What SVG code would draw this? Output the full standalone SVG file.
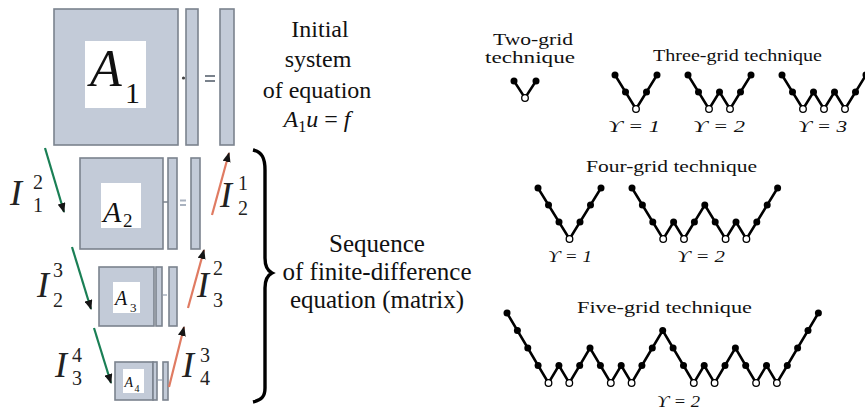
<svg xmlns="http://www.w3.org/2000/svg" width="865" height="410" viewBox="0 0 865 410">
<style>
.m{fill:#c3cbd8;stroke:#7b838e;stroke-width:1.6}
.w{fill:#fff}
.tx{font-family:"Liberation Serif","DejaVu Serif",serif;fill:#111}
.ital{font-style:italic}
.big{font-size:25px}
.bigI{font-family:"Liberation Serif",serif;font-style:italic;font-size:36px;fill:#222}
.ix{font-family:"Liberation Serif",serif;font-size:20px;fill:#222}
.ttl{font-family:"Liberation Serif",serif;font-size:17px;fill:#111}
.gm{font-family:"Liberation Serif","DejaVu Serif",serif;font-style:italic;font-size:16px;fill:#111}
.ln{fill:none;stroke:#000;stroke-width:2.5;stroke-linejoin:miter}
.d{fill:#000}
.o{fill:#fff;stroke:#000;stroke-width:1.3}
.ga{stroke:#1a7f55;stroke-width:2.2;fill:none}
.ra{stroke:#e07b62;stroke-width:2.2;fill:none}
</style>
<defs>
<marker id="ah" viewBox="0 0 10 8" refX="9" refY="4" markerWidth="10" markerHeight="8" markerUnits="userSpaceOnUse" orient="auto">
<path d="M0,0 L10,4 L0,8 z" fill="#151515"/>
</marker>
</defs>

<g id="matrix-A1">
<rect class="m" x="54" y="9" width="124" height="136"/>
<rect class="w" x="85" y="41" width="61" height="67"/>
<text class="tx ital" x="90" y="86" font-size="52">A</text>
<text class="tx" x="125" y="103" font-size="30">1</text>
<rect class="m" x="186" y="9" width="12" height="136"/>
<circle cx="183.5" cy="78" r="1.6" fill="#444"/>
<path d="M205,76 H215 M205,81 H215" stroke="#7a828c" stroke-width="2"/>
<rect class="m" x="220" y="9" width="14" height="136"/>
</g>

<g id="matrix-A2">
<rect class="m" x="80" y="158" width="83" height="91"/>
<rect class="w" x="101" y="183" width="40" height="45"/>
<text class="tx ital" x="103" y="222" font-size="30">A</text>
<text class="tx" x="123" y="227" font-size="19">2</text>
<path d="M163,202 H168" stroke="#7b838e" stroke-width="1.5"/>
<rect class="m" x="168" y="158" width="9" height="91"/>
<path d="M180,200.5 H186 M180,205 H186" stroke="#a9b2bf" stroke-width="2"/>
<rect class="m" x="191" y="158" width="9" height="91"/>
</g>

<g id="matrix-A3">
<rect class="m" x="99" y="267" width="55" height="59"/>
<rect class="w" x="113" y="282" width="27" height="31"/>
<text class="tx ital" x="115" y="305" font-size="20">A</text>
<text class="tx" x="130" y="312" font-size="13">3</text>
<rect class="m" x="156" y="267" width="6" height="59"/>
<path d="M163,295 H167" stroke="#a9b2bf" stroke-width="1.5"/>
<rect class="m" x="169" y="267" width="8" height="59"/>
</g>

<g id="matrix-A4">
<rect class="m" x="115" y="362" width="38" height="38"/>
<rect class="w" x="123" y="369" width="21" height="24"/>
<text class="tx ital" x="124.5" y="387" font-size="14">A</text>
<text class="tx" x="134.5" y="392" font-size="10">4</text>
<rect class="m" x="153" y="362" width="4" height="38"/>
<path d="M158,380 H162" stroke="#a9b2bf" stroke-width="1.5"/>
<rect class="m" x="163" y="362" width="5" height="38"/>
</g>

<g id="connectors">
<line class="ga" x1="45" y1="148" x2="64" y2="212" marker-end="url(#ah)"/>
<line class="ga" x1="72" y1="247" x2="91" y2="309" marker-end="url(#ah)"/>
<line class="ga" x1="94" y1="328" x2="111" y2="383" marker-end="url(#ah)"/>
<line class="ra" x1="212" y1="215" x2="229" y2="153" marker-end="url(#ah)"/>
<line class="ra" x1="188" y1="308" x2="204" y2="250" marker-end="url(#ah)"/>
<line class="ra" x1="169" y1="387" x2="184" y2="327" marker-end="url(#ah)"/>
</g>

<g id="labels-I">
<text class="bigI" x="10" y="205">I</text><text class="ix" x="33" y="189">2</text><text class="ix" x="33" y="212">1</text>
<text class="bigI" x="220" y="207">I</text><text class="ix" x="238" y="190">1</text><text class="ix" x="238" y="215">2</text>
<text class="bigI" x="37" y="297">I</text><text class="ix" x="53" y="277">3</text><text class="ix" x="53" y="307">2</text>
<text class="bigI" x="197" y="297">I</text><text class="ix" x="213" y="275">2</text><text class="ix" x="213" y="307">3</text>
<text class="bigI" x="55" y="377">I</text><text class="ix" x="72" y="362">4</text><text class="ix" x="72" y="385">3</text>
<text class="bigI" x="182" y="377">I</text><text class="ix" x="200" y="362">3</text><text class="ix" x="200" y="385">4</text>
</g>

<g id="brace">
<path d="M253,150 C262,152 265,158 265,170 L265,258 C265,266 268,271 272,273 C268,275 265,280 265,288 L265,388 C265,396 262,400 253,402" fill="none" stroke="#000" stroke-width="3.4"/>
</g>

<g id="text-initial" class="tx" font-size="24" text-anchor="middle">
<text x="320" y="37">Initial</text>
<text x="318" y="67">system</text>
<text x="317" y="98">of equation</text>
<text x="317" y="127"><tspan class="ital">A</tspan><tspan font-size="16" dy="5">1</tspan><tspan class="ital" dy="-5">u</tspan> = <tspan class="ital">f</tspan></text>
</g>

<g id="text-sequence" class="tx big" text-anchor="middle">
<text x="377" y="252">Sequence</text>
<text x="377" y="280">of finite-difference</text>
<text x="377" y="308">equation (matrix)</text>
</g>

<g id="two-grid">
<text class="ttl" x="493" y="45" textLength="80" lengthAdjust="spacingAndGlyphs">Two-grid</text>
<text class="ttl" x="485" y="63" textLength="90" lengthAdjust="spacingAndGlyphs">technique</text>
<polyline class="ln" points="514,81 525,98 536,81"/>
<circle class="d" cx="514" cy="81" r="3.5"/><circle class="d" cx="536" cy="81" r="3.5"/>
<circle class="o" cx="525" cy="98" r="3.3"/>
</g>

<g id="three-grid">
<text class="ttl" x="653" y="61" textLength="169" lengthAdjust="spacingAndGlyphs">Three-grid technique</text>
<polyline class="ln" points="615,75 625.5,92 636,109 646.5,92 657,75"/>
<polyline class="ln" points="688,75 698.5,92 709,109 719.5,92 730,109 740.5,92 751,75"/>
<polyline class="ln" points="782,75 792.5,92 803,109 813.5,92 824,109 834.5,92 845,109 855.5,92 866,75"/>
<g class="d">
<circle cx="615" cy="75" r="3.5"/><circle cx="625.5" cy="92" r="3.5"/><circle cx="646.5" cy="92" r="3.5"/><circle cx="657" cy="75" r="3.5"/>
<circle cx="688" cy="75" r="3.5"/><circle cx="698.5" cy="92" r="3.5"/><circle cx="719.5" cy="92" r="3.5"/><circle cx="740.5" cy="92" r="3.5"/><circle cx="751" cy="75" r="3.5"/>
<circle cx="782" cy="75" r="3.5"/><circle cx="792.5" cy="92" r="3.5"/><circle cx="813.5" cy="92" r="3.5"/><circle cx="834.5" cy="92" r="3.5"/><circle cx="855.5" cy="92" r="3.5"/><circle cx="866" cy="75" r="3.5"/>
</g>
<g class="o">
<circle cx="636" cy="109" r="3.3"/><circle cx="709" cy="109" r="3.3"/><circle cx="730" cy="109" r="3.3"/>
<circle cx="803" cy="109" r="3.3"/><circle cx="824" cy="109" r="3.3"/><circle cx="845" cy="109" r="3.3"/>
</g>
<text class="gm" x="608" y="132" textLength="52" lengthAdjust="spacingAndGlyphs">ϒ = 1</text>
<text class="gm" x="693" y="132" textLength="52" lengthAdjust="spacingAndGlyphs">ϒ = 2</text>
<text class="gm" x="798" y="132" textLength="49" lengthAdjust="spacingAndGlyphs">ϒ = 3</text>
</g>

<g id="four-grid">
<text class="ttl" x="586" y="172" textLength="171" lengthAdjust="spacingAndGlyphs">Four-grid technique</text>
<polyline class="ln" points="538,188 548.5,205 559,222 569.5,239 580,222 590.5,205 601,188"/>
<polyline class="ln" points="632,188 642.4,205 652.8,222 663.2,239 673.6,222 684,239 694.4,222 704.8,205 715.2,222 725.6,239 736,222 746.4,239 756.8,222 767.2,205 777.6,188"/>
<g class="d">
<circle cx="538" cy="188" r="3.5"/><circle cx="548.5" cy="205" r="3.5"/><circle cx="559" cy="222" r="3.5"/><circle cx="580" cy="222" r="3.5"/><circle cx="590.5" cy="205" r="3.5"/><circle cx="601" cy="188" r="3.5"/>
<circle cx="632" cy="188" r="3.5"/><circle cx="642.4" cy="205" r="3.5"/><circle cx="652.8" cy="222" r="3.5"/><circle cx="673.6" cy="222" r="3.5"/><circle cx="694.4" cy="222" r="3.5"/><circle cx="704.8" cy="205" r="3.5"/><circle cx="715.2" cy="222" r="3.5"/><circle cx="736" cy="222" r="3.5"/><circle cx="756.8" cy="222" r="3.5"/><circle cx="767.2" cy="205" r="3.5"/><circle cx="777.6" cy="188" r="3.5"/>
</g>
<g class="o">
<circle cx="569.5" cy="239" r="3.3"/>
<circle cx="663.2" cy="239" r="3.3"/><circle cx="684" cy="239" r="3.3"/><circle cx="725.6" cy="239" r="3.3"/><circle cx="746.4" cy="239" r="3.3"/>
</g>
<text class="gm" x="548" y="262" textLength="44" lengthAdjust="spacingAndGlyphs">ϒ = 1</text>
<text class="gm" x="677" y="262" textLength="48" lengthAdjust="spacingAndGlyphs">ϒ = 2</text>
</g>

<g id="five-grid">
<text class="ttl" x="577" y="313" textLength="175" lengthAdjust="spacingAndGlyphs">Five-grid technique</text>
<polyline class="ln" points="507,313 517.4,330.5 527.8,348 538.1,365.5 548.5,383 558.9,365.5 569.3,383 579.7,365.5 590,348 600.4,365.5 610.8,383 621.2,365.5 631.6,383 641.9,365.5 652.3,348 662.7,330.5 673.1,348 683.5,365.5 693.8,383 704.2,365.5 714.6,383 725,365.5 735.4,348 745.7,365.5 756.1,383 766.5,365.5 776.9,383 787.3,365.5 797.6,348 808,330.5 818.4,313"/>
<g class="d">
<circle cx="507" cy="313" r="3.5"/><circle cx="517.4" cy="330.5" r="3.5"/><circle cx="527.8" cy="348" r="3.5"/><circle cx="538.1" cy="365.5" r="3.5"/>
<circle cx="558.9" cy="365.5" r="3.5"/><circle cx="579.7" cy="365.5" r="3.5"/><circle cx="590" cy="348" r="3.5"/><circle cx="600.4" cy="365.5" r="3.5"/>
<circle cx="621.2" cy="365.5" r="3.5"/><circle cx="641.9" cy="365.5" r="3.5"/><circle cx="652.3" cy="348" r="3.5"/><circle cx="662.7" cy="330.5" r="3.5"/>
<circle cx="673.1" cy="348" r="3.5"/><circle cx="683.5" cy="365.5" r="3.5"/><circle cx="704.2" cy="365.5" r="3.5"/><circle cx="725" cy="365.5" r="3.5"/>
<circle cx="735.4" cy="348" r="3.5"/><circle cx="745.7" cy="365.5" r="3.5"/><circle cx="766.5" cy="365.5" r="3.5"/><circle cx="787.3" cy="365.5" r="3.5"/>
<circle cx="797.6" cy="348" r="3.5"/><circle cx="808" cy="330.5" r="3.5"/><circle cx="818.4" cy="313" r="3.5"/>
</g>
<g class="o">
<circle cx="548.5" cy="383" r="3.3"/><circle cx="569.3" cy="383" r="3.3"/><circle cx="610.8" cy="383" r="3.3"/><circle cx="631.6" cy="383" r="3.3"/>
<circle cx="693.8" cy="383" r="3.3"/><circle cx="714.6" cy="383" r="3.3"/><circle cx="756.1" cy="383" r="3.3"/><circle cx="776.9" cy="383" r="3.3"/>
</g>
<text class="gm" x="657" y="407" textLength="43" lengthAdjust="spacingAndGlyphs">ϒ = 2</text>
</g>
</svg>
